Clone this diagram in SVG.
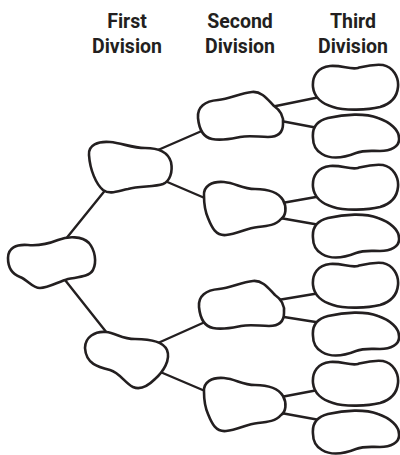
<svg xmlns="http://www.w3.org/2000/svg" xmlns:xlink="http://www.w3.org/1999/xlink" width="400" height="455" viewBox="0 0 400 455">
<style>
.blob{fill:#fff;stroke:#231f20;stroke-width:2.6;stroke-linejoin:round}
.conn line{stroke:#231f20;stroke-width:2.4;stroke-linecap:round}
.hd{font-family:Roboto,"Liberation Sans",sans-serif;font-weight:bold;font-size:19.5px;fill:#231f20;text-anchor:middle}
</style>
<defs>
<path id="tA" d="M313,87 C312,76 318,67 330,66 C342,65 350,70 358,68 C366,66 372,64 383,65 C393,67 399,77 398,87 C397,98 390,104 380,107 C368,110 345,111 333,107 C322,104 314,97 313,87 Z"/>
<path id="tB" d="M313,138 C312,128 316,121 328,118 C345,114 365,113 378,118 C390,122 399,130 399,138 C400,147 390,151 380,151 C370,151 364,150 356,153 C346,157 332,160 322,154 C315,150 313,144 313,138 Z"/>
<path id="sA" d="M198,118 C197,107 205,101 218,100 C230,99 240,93 252,92 C262,91 268,100 274,106 C280,110 284,115 283,124 C283,133 278,137 268,137 C258,137 250,135 240,137 C230,139 222,141 212,139 C202,137 199,128 198,118 Z"/>
<path id="sB" d="M204,196 C203,186 212,181 224,182 C236,183 242,189 255,189 C268,189 278,192 283,200 C287,207 286,216 281,219 C276,225 268,226 258,227 C246,228 238,234 226,235 C216,236 212,228 208,218 C205,211 204,203 204,196 Z"/>
</defs>
<g id="headings">
<text class="hd" x="127" y="28">First</text>
<text class="hd" x="127" y="53">Division</text>
<text class="hd" x="240" y="28">Second</text>
<text class="hd" x="240" y="53">Division</text>
<text class="hd" x="353" y="28">Third</text>
<text class="hd" x="353" y="53">Division</text>
</g>
<g id="connectors" class="conn">
<line x1="65" y1="240" x2="107" y2="188"/>
<line x1="65" y1="280" x2="107" y2="333"/>
<line x1="158" y1="150" x2="204" y2="130"/>
<line x1="165" y1="181" x2="207" y2="199"/>
<line x1="158" y1="343" x2="205" y2="322"/>
<line x1="158" y1="371" x2="205" y2="391"/>
<line x1="271" y1="107" x2="320" y2="97"/>
<line x1="281" y1="121" x2="318" y2="128"/>
<line x1="282" y1="203" x2="316" y2="197"/>
<line x1="280" y1="218" x2="320" y2="225"/>
<line x1="278" y1="300" x2="320" y2="293"/>
<line x1="284" y1="317" x2="322" y2="323"/>
<line x1="281" y1="397" x2="318" y2="390"/>
<line x1="281" y1="413" x2="325" y2="421"/>
</g>
<g id="root"><path class="blob" d="M8,258 C8,248 16,244 28,245 C40,246 48,244 58,240 C68,236 82,236 89,243 C95,250 97,262 93,270 C89,277 78,277 68,279 C58,282 48,288 40,288 C32,288 28,280 20,277 C12,274 8,268 8,258 Z"/></g>
<g id="first-top"><path class="blob" d="M89,155 C88,145 98,141 110,142 C122,143 132,148 145,148 C158,148 168,152 171,162 C173,172 170,181 163,184 C155,187 140,186 128,189 C118,191 110,195 103,190 C96,184 90,170 89,155 Z"/></g>
<g id="first-bottom"><path class="blob" d="M85,348 C85,337 95,331 106,332 C116,333 122,339 135,339 C150,339 163,341 167,350 C171,360 163,372 155,379 C148,386 140,390 133,387 C125,383 120,373 110,370 C98,367 86,364 85,348 Z"/></g>
<g id="second-1"><use xlink:href="#sA" class="blob"/></g>
<g id="second-2"><use xlink:href="#sB" class="blob"/></g>
<g id="second-3"><use xlink:href="#sA" class="blob" transform="translate(1,189)"/></g>
<g id="second-4"><use xlink:href="#sB" class="blob" transform="translate(0,196)"/></g>
<g id="third-1"><use xlink:href="#tA" class="blob"/></g>
<g id="third-2"><use xlink:href="#tB" class="blob"/></g>
<g id="third-3"><use xlink:href="#tA" class="blob" transform="translate(0,100)"/></g>
<g id="third-4"><use xlink:href="#tB" class="blob" transform="translate(0,100)"/></g>
<g id="third-5"><use xlink:href="#tA" class="blob" transform="translate(0,198)"/></g>
<g id="third-6"><use xlink:href="#tB" class="blob" transform="translate(0,198)"/></g>
<g id="third-7"><use xlink:href="#tA" class="blob" transform="translate(0,296)"/></g>
<g id="third-8"><use xlink:href="#tB" class="blob" transform="translate(0,296)"/></g>
</svg>
